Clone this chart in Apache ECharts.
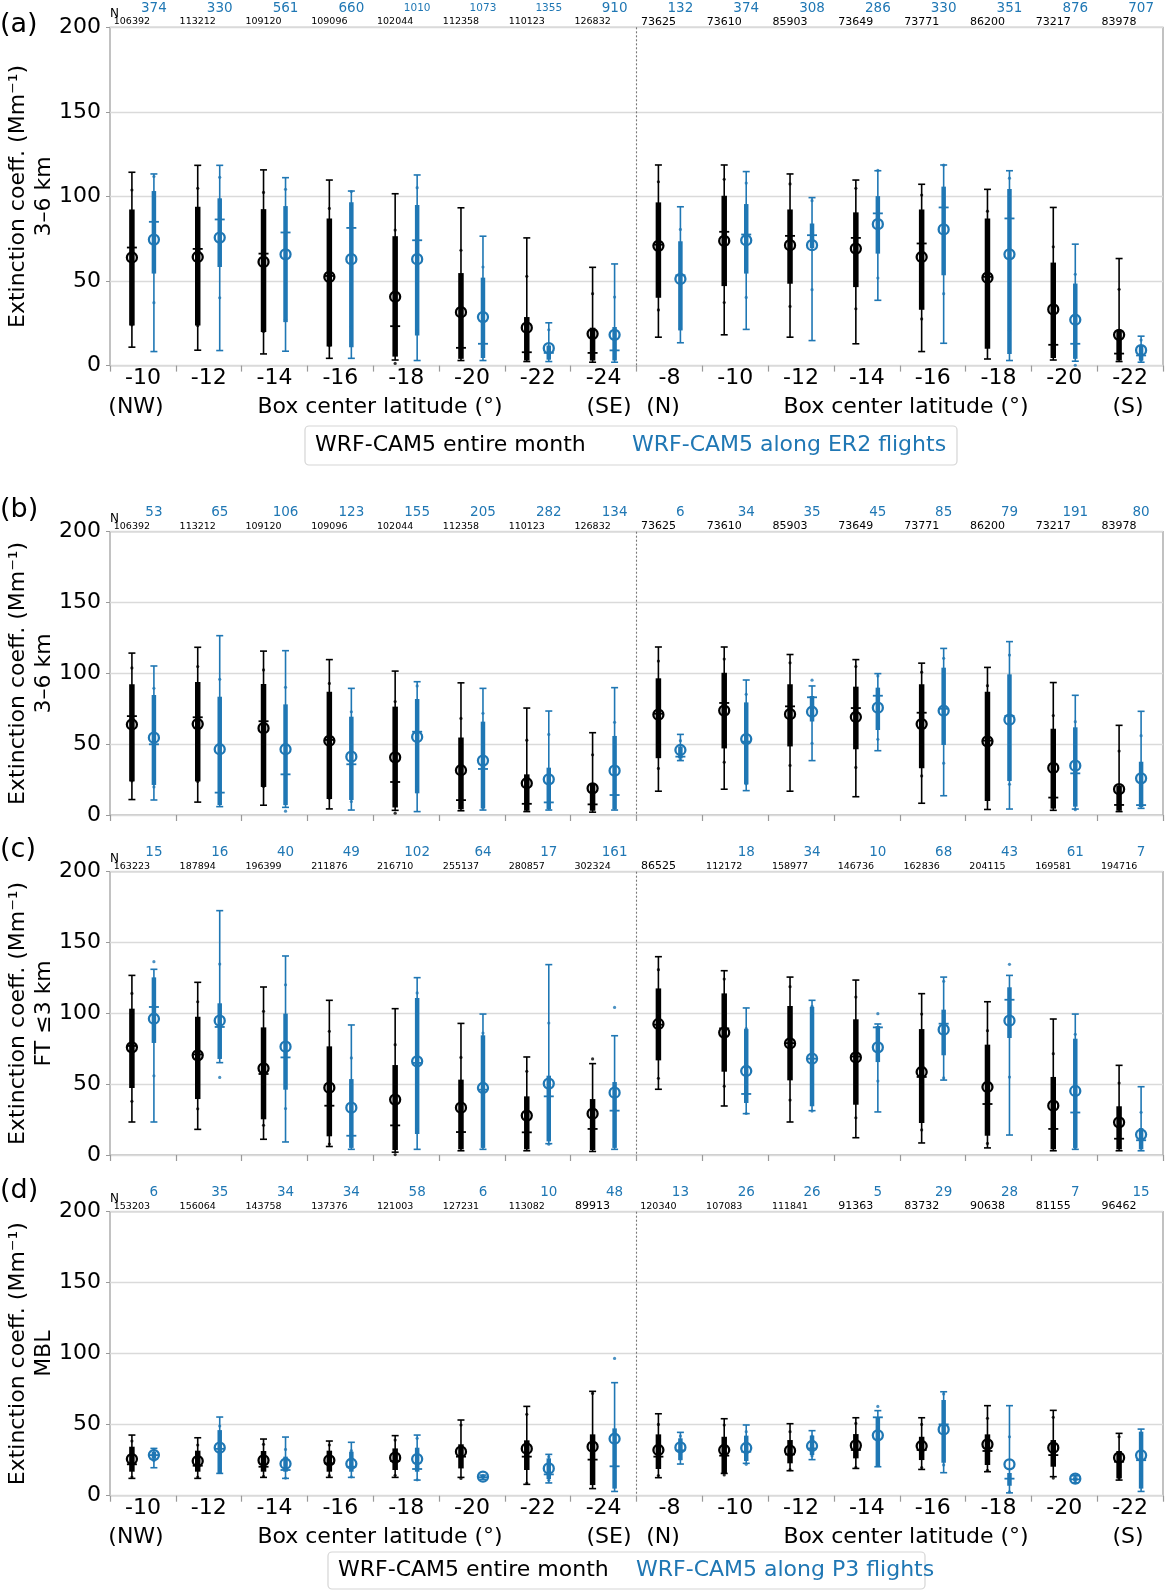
<!DOCTYPE html>
<html>
<head>
<meta charset="utf-8">
<script src="https://cdn.jsdelivr.net/npm/echarts@6/dist/echarts.min.js"></script>
<style>
  html, body { margin: 0; padding: 0; background: #fff; }
  #main { width: 1173px; height: 1591px; }
</style>
</head>
<body>
<div id="main"></div>
<script>
// box center latitudes: 8 boxes NW->SE, then 8 boxes N->S
var cats = ['-10', '-12', '-14', '-16', '-18', '-20', '-22', '-24', '-8', '-10', '-12', '-14', '-16', '-18', '-20', '-22'];

// each row: [min, p25, median, mean, p75, max, std]
var monthUpper = [
  [10.9, 23.7, 69.8, 63.9, 92.3, 114.3, 39.9],
  [9.1, 23.7, 69.0, 64.2, 93.9, 118.4, 40.6],
  [6.9, 19.8, 66.2, 61.3, 92.5, 115.7, 41.1],
  [4.3, 11.3, 53.0, 52.4, 87.0, 109.7, 40.5],
  [3.3, 5.3, 23.3, 40.7, 76.5, 101.6, 39.4],
  [3.0, 4.0, 10.5, 31.6, 54.7, 93.3, 36.6],
  [2.4, 3.0, 7.9, 22.4, 28.7, 75.5, 30.4],
  [2.0, 3.0, 7.5, 18.8, 22.4, 58.1, 23.7],
  [16.8, 40.1, 71.5, 70.8, 96.5, 118.6, 37.9],
  [18.2, 47.0, 79.1, 73.7, 100.4, 118.6, 36.4],
  [16.8, 48.4, 76.7, 71.2, 92.3, 113.3, 36.2],
  [12.9, 46.4, 75.5, 69.2, 90.6, 109.7, 35.6],
  [8.3, 33.0, 72.2, 64.2, 92.3, 107.2, 36.6],
  [3.9, 9.9, 52.5, 52.0, 87.0, 104.2, 39.3],
  [3.3, 4.5, 12.3, 33.2, 60.9, 93.5, 37.0],
  [2.4, 3.0, 7.1, 18.2, 20.8, 63.3, 26.9]
];
var er2Upper = [
  [8.3, 54.4, 85.0, 74.5, 103.2, 113.3, 37.3],
  [8.9, 58.3, 86.4, 75.7, 98.9, 118.4, 35.6],
  [8.5, 25.7, 78.7, 65.8, 94.3, 111.1, 38.4],
  [4.3, 10.9, 81.4, 62.9, 96.5, 103.2, 40.0],
  [3.0, 17.8, 74.1, 62.9, 94.9, 112.7, 42.3],
  [3.0, 4.5, 12.9, 28.7, 52.0, 76.5, 29.6],
  [2.4, 3.5, 7.5, 10.3, 11.9, 25.3, 10.9],
  [2.0, 3.0, 9.0, 18.2, 22.8, 60.1, 22.3],
  [13.5, 20.8, 53.4, 51.2, 73.5, 93.9, 29.3],
  [21.4, 54.4, 77.5, 74.1, 95.5, 114.7, 33.8],
  [14.8, 69.5, 77.1, 71.2, 84.0, 99.3, 26.3],
  [38.6, 66.2, 90.0, 83.6, 100.2, 115.2, 31.8],
  [13.2, 53.4, 93.5, 80.5, 105.8, 118.6, 38.0],
  [3.0, 6.9, 87.0, 65.8, 104.4, 115.2, 45.0],
  [2.6, 4.0, 12.9, 27.1, 48.5, 71.8, 26.9],
  [2.0, 3.0, 6.0, 9.1, 11.9, 17.4, 6.0]
];
var p3Upper = [
  [10.6, 21.2, 49.9, 54.6, 84.7, 105.2, 34.8],
  [5.9, 7.0, 15.8, 46.4, 83.5, 126.6, 49.4],
  [5.4, 7.0, 28.7, 46.4, 78.1, 116.0, 43.7],
  [3.5, 10.6, 35.8, 41.2, 69.4, 89.4, 31.7],
  [2.4, 15.3, 58.8, 55.1, 81.9, 94.1, 36.0],
  [3.5, 4.7, 32.5, 38.4, 65.9, 89.4, 33.4],
  [3.5, 4.0, 8.9, 25.2, 33.4, 73.4, 31.7],
  [3.5, 4.0, 14.1, 31.3, 55.8, 89.9, 34.1],
  [38.4, 40.0, 41.2, 45.9, 48.2, 56.9, 6.6],
  [17.2, 21.6, 51.8, 53.6, 79.5, 95.3, 31.6],
  [38.4, 66.0, 83.1, 72.9, 84.0, 91.1, 22.3],
  [45.4, 60.0, 84.2, 75.8, 89.9, 99.8, 22.4],
  [13.6, 49.4, 75.0, 73.6, 104.0, 117.6, 37.0],
  [4.2, 24.0, 70.0, 67.3, 99.3, 122.4, 45.6],
  [4.2, 5.9, 29.4, 34.8, 61.9, 84.5, 31.1],
  [4.7, 5.5, 7.0, 25.9, 37.6, 73.2, 30.1]
];
var monthFT = [
  [23.3, 47.3, 77.0, 76.0, 103.3, 126.8, 38.1],
  [18.1, 39.5, 71.0, 70.4, 97.6, 121.9, 37.8],
  [11.1, 25.2, 57.2, 61.2, 90.1, 118.6, 40.2],
  [6.0, 13.2, 34.8, 47.5, 76.7, 109.2, 39.8],
  [2.0, 3.5, 20.9, 39.1, 63.5, 103.3, 38.8],
  [3.0, 4.0, 16.2, 33.4, 53.2, 92.9, 35.5],
  [3.0, 4.0, 16.0, 27.8, 41.4, 69.2, 31.3],
  [2.5, 3.5, 18.4, 29.2, 39.5, 64.5, 38.6],
  [46.4, 66.8, 92.0, 92.5, 117.6, 140.0, 38.3],
  [34.6, 58.8, 89.4, 86.4, 114.1, 130.1, 37.8],
  [23.3, 52.7, 79.0, 78.8, 105.2, 125.6, 40.0],
  [12.2, 35.5, 69.5, 68.9, 95.8, 123.5, 42.6],
  [8.5, 22.6, 55.1, 58.6, 88.9, 113.9, 40.9],
  [5.0, 13.6, 36.0, 48.0, 77.9, 108.2, 39.8],
  [3.0, 4.0, 18.4, 34.8, 55.1, 96.0, 36.7],
  [3.0, 4.0, 11.5, 23.1, 34.4, 63.3, 27.7]
];
var p3FT = [
  [23.3, 79.1, 104.5, 96.2, 125.4, 131.1, 40.3],
  [65.2, 67.8, 90.4, 94.8, 107.1, 172.5, 40.0],
  [9.2, 46.1, 68.9, 76.5, 99.8, 140.5, 43.7],
  [4.0, 5.0, 13.6, 33.4, 53.6, 91.8, 35.1],
  [4.0, 14.8, 65.0, 66.1, 110.8, 125.2, 48.3],
  [4.0, 5.0, 46.1, 47.3, 84.5, 99.5, 38.8],
  [8.0, 9.6, 41.4, 50.4, 56.0, 134.4, 42.8],
  [4.0, 5.0, 31.3, 44.0, 51.5, 84.2, 60.2],
  null,
  [29.2, 36.7, 43.1, 59.3, 88.9, 103.8, 30.0],
  [31.3, 34.4, 68.0, 68.0, 104.5, 109.2, 37.0],
  [30.4, 65.6, 90.1, 76.0, 91.0, 92.5, 23.8],
  [52.9, 70.4, 92.7, 88.5, 102.6, 125.6, 34.1],
  [14.1, 82.6, 109.6, 94.8, 118.4, 126.8, 39.8],
  [4.0, 5.0, 30.0, 45.2, 82.1, 99.5, 40.0],
  [3.0, 4.0, 10.4, 14.4, 19.0, 48.2, 15.7]
];
var monthMBL = [
  [12.2, 16.9, 22.1, 25.8, 34.5, 42.7, 12.7],
  [12.2, 16.9, 21.1, 24.4, 31.7, 40.8, 11.3],
  [12.9, 16.9, 20.4, 24.9, 31.5, 39.9, 11.3],
  [12.9, 16.9, 22.8, 24.9, 31.7, 38.5, 10.8],
  [12.9, 18.1, 24.4, 26.8, 33.3, 42.3, 12.4],
  [12.9, 19.2, 27.5, 31.0, 36.2, 53.3, 18.8],
  [8.0, 18.1, 27.5, 33.1, 39.0, 62.9, 24.2],
  [5.0, 7.5, 25.4, 34.5, 43.2, 73.5, 37.5],
  [12.7, 18.8, 27.5, 32.2, 43.2, 57.7, 18.0],
  [15.7, 15.7, 28.2, 32.2, 41.5, 54.2, 17.6],
  [17.6, 22.8, 29.1, 31.7, 39.2, 50.7, 13.4],
  [19.2, 26.3, 32.2, 35.4, 43.4, 54.9, 15.5],
  [18.5, 25.1, 32.2, 35.0, 41.5, 54.9, 15.2],
  [16.9, 21.6, 31.5, 36.2, 43.2, 63.4, 18.3],
  [13.4, 20.4, 28.6, 33.8, 39.2, 60.1, 21.4],
  [11.0, 12.2, 23.9, 26.8, 31.5, 43.9, 14.7]
];
var p3MBL = [
  [19.7, 26.0, 28.6, 28.6, 31.0, 33.3, 4.0],
  [15.7, 15.7, 33.0, 33.8, 46.2, 55.4, 15.3],
  [12.2, 16.9, 18.1, 22.5, 27.5, 41.3, 10.1],
  [12.9, 16.9, 20.4, 22.5, 31.0, 37.6, 9.2],
  [11.0, 16.9, 18.8, 25.8, 33.8, 42.7, 14.6],
  [11.5, 12.5, 13.0, 13.4, 14.0, 14.5, 1.0],
  [9.0, 11.7, 15.0, 19.2, 26.3, 29.1, 8.3],
  [3.0, 5.0, 20.7, 40.1, 47.4, 79.6, 56.6],
  [22.3, 25.0, 32.0, 34.0, 40.4, 44.6, 8.0],
  [22.8, 24.4, 31.0, 33.6, 42.3, 49.8, 11.5],
  [25.4, 28.6, 33.3, 35.0, 42.3, 45.8, 7.0],
  [20.4, 20.4, 55.2, 42.5, 55.2, 59.9, 20.4],
  [16.2, 23.2, 50.2, 46.7, 67.4, 73.2, 25.0],
  [2.0, 7.0, 12.0, 22.1, 16.0, 63.4, 19.4],
  [9.0, 10.5, 11.5, 12.0, 13.0, 14.0, 2.0],
  [3.0, 5.0, 25.0, 28.4, 45.1, 46.9, 14.0]
];

// sample counts shown above each panel
var nMonthUpper = [106392, 113212, 109120, 109096, 102044, 112358, 110123, 126832, 73625, 73610, 85903, 73649, 73771, 86200, 73217, 83978];
var nEr2 = [374, 330, 561, 660, 1010, 1073, 1355, 910, 132, 374, 308, 286, 330, 351, 876, 707];
var nP3Upper = [53, 65, 106, 123, 155, 205, 282, 134, 6, 34, 35, 45, 85, 79, 191, 80];
var nMonthFT = [163223, 187894, 196399, 211876, 216710, 255137, 280857, 302324, 86525, 112172, 158977, 146736, 162836, 204115, 169581, 194716];
var nP3FT = [15, 16, 40, 49, 102, 64, 17, 161, null, 18, 34, 10, 68, 43, 61, 7];
var nMonthMBL = [153203, 156064, 143758, 137376, 121003, 127231, 113082, 89913, 120340, 107083, 111841, 91363, 83732, 90638, 81155, 96462];
var nP3MBL = [6, 35, 34, 34, 58, 6, 10, 48, 13, 26, 26, 5, 29, 28, 7, 15];

var yTicks = [0, 50, 100, 150, 200];

var BLUE = '#1f77b4';
var FONT = 'DejaVu Sans';
var TXT = 22;
var myChart = echarts.init(document.getElementById('main'), null, { renderer: 'canvas' });

var panels = [
  { top: 27.3, height: 338.3, tag: '(a)', tagY: 25, sub: '3\u20136 km', month: monthUpper, flight: er2Upper, nMonth: nMonthUpper, nFlight: nEr2, labels: true },
  { top: 531.7, height: 283.3, tag: '(b)', tagY: 510, sub: '3\u20136 km', month: monthUpper, flight: p3Upper, nMonth: nMonthUpper, nFlight: nP3Upper, labels: false },
  { top: 871.7, height: 283.3, tag: '(c)', tagY: 850, sub: 'FT \u22643 km', month: monthFT, flight: p3FT, nMonth: nMonthFT, nFlight: nP3FT, labels: false },
  { top: 1211.7, height: 284, tag: '(d)', tagY: 1191, sub: 'MBL', month: monthMBL, flight: p3MBL, nMonth: nMonthMBL, nFlight: nP3MBL, labels: true }
];

function toData(rows) {
  var out = [];
  rows.forEach(function (r, i) {
    if (r) out.push([i].concat(r));
  });
  return out;
}

// one box-whisker glyph: whisker with caps, thick IQR bar, median tick, mean circle, mean±std dots
function glyph(color, dx, thick) {
  return function (params, api) {
    var i = api.value(0);
    var x = api.coord([i, 0])[0] + dx;
    var y = function (v) { return api.coord([i, v])[1]; };
    var lo = api.value(1), q1 = api.value(2), med = api.value(3), mean = api.value(4),
        q3 = api.value(5), hi = api.value(6), sd = api.value(7);
    var thin = { stroke: color, lineWidth: 1.6 };
    var ch = [
      { type: 'line', shape: { x1: x, y1: y(lo), x2: x, y2: y(hi) }, style: thin },
      { type: 'line', shape: { x1: x - 3.5, y1: y(lo), x2: x + 3.5, y2: y(lo) }, style: thin },
      { type: 'line', shape: { x1: x - 3.5, y1: y(hi), x2: x + 3.5, y2: y(hi) }, style: thin },
      { type: 'line', shape: { x1: x, y1: y(q1), x2: x, y2: y(q3) }, style: { stroke: color, lineWidth: thick } },
      { type: 'line', shape: { x1: x - 5, y1: y(med), x2: x + 5, y2: y(med) }, style: { stroke: color, lineWidth: 1.8 } }
    ];
    [mean - sd, mean + sd].forEach(function (v) {
      if (v >= 0 && v <= 200) {
        ch.push({ type: 'circle', shape: { cx: x, cy: y(v), r: 1.6 }, style: { fill: color, opacity: 0.8 } });
      }
    });
    ch.push({ type: 'circle', shape: { cx: x, cy: y(mean), r: 5 }, style: { fill: 'none', stroke: color, lineWidth: 2.3 } });
    return { type: 'group', children: ch };
  };
}

function countLabels(color, dx, above, small, big, cut) {
  return function (params, api) {
    var i = api.value(0);
    var n = api.value(1);
    var txt = String(n);
    return {
      type: 'text',
      x: api.coord([i, 0])[0] + dx,
      y: params.coordSys.y - above,
      style: {
        text: txt, fill: color, font: (txt.length >= cut ? small : big) + 'px ' + FONT,
        align: 'center', verticalAlign: 'middle'
      }
    };
  };
}

function divider(params, api) {
  var x = (api.coord([7, 0])[0] + api.coord([8, 0])[0]) / 2;
  var cs = params.coordSys;
  return {
    type: 'line',
    shape: { x1: x, y1: cs.y, x2: x, y2: cs.y + cs.height },
    style: { stroke: '#777', lineWidth: 1.1, lineDash: [2, 2] }
  };
}

var grids = [], xAxes = [], yAxes = [], series = [], graphics = [];

panels.forEach(function (p, k) {
  grids.push({ left: 110, width: 1053, top: p.top, height: p.height, show: true, borderColor: '#999', borderWidth: 1.2 });
  xAxes.push({
    type: 'category', gridIndex: k, data: cats.map(function (c, i) { return String(i); }),
    boundaryGap: true,
    axisLine: { show: false },
    axisTick: { show: true, length: 6, lineStyle: { color: '#999', width: 1.2 } },
    axisLabel: { show: p.labels, margin: 2, fontSize: TXT, fontFamily: FONT, color: '#000',
      formatter: function (v, idx) { return cats[idx]; } },
    splitLine: { show: false }
  });
  yAxes.push({
    type: 'value', gridIndex: k, min: yTicks[0], max: yTicks[yTicks.length - 1], interval: 50,
    axisLine: { show: false },
    axisTick: { show: true, length: 4, lineStyle: { color: '#999' } },
    axisLabel: { margin: 9, fontSize: TXT, fontFamily: FONT, color: '#000' },
    splitLine: { show: true, lineStyle: { color: '#dadada', width: 1.4 } }
  });

  series.push({ type: 'custom', xAxisIndex: k, yAxisIndex: k, renderItem: divider, data: [[0, 0]], silent: true, z: 1 });
  series.push({ type: 'custom', xAxisIndex: k, yAxisIndex: k, renderItem: glyph('#000', -11, 5.5), data: toData(p.month), z: 3 });
  series.push({ type: 'custom', xAxisIndex: k, yAxisIndex: k, renderItem: glyph(BLUE, 11, 4.5), data: toData(p.flight), z: 3 });
  series.push({ type: 'custom', xAxisIndex: k, yAxisIndex: k, renderItem: countLabels('#000', -11, 5.5, 9.5, 11, 6),
    data: p.nMonth.map(function (n, i) { return [i, n]; }), z: 4 });
  series.push({ type: 'custom', xAxisIndex: k, yAxisIndex: k, renderItem: countLabels(BLUE, 11, 19, 10.5, 13.5, 4),
    data: p.nFlight.map(function (n, i) { return n == null ? null : [i, n]; }).filter(Boolean), z: 4 });

  var mid = p.top + p.height / 2;
  graphics.push(
    { type: 'text', x: 0, y: p.tagY, style: { text: p.tag, font: '27px ' + FONT, fill: '#000', verticalAlign: 'middle' } },
    { type: 'text', x: 18, y: mid, rotation: Math.PI / 2,
      style: { text: 'Extinction coeff. (Mm\u207B\u00B9)', font: TXT + 'px ' + FONT, fill: '#000', align: 'center', verticalAlign: 'middle' } },
    { type: 'text', x: 44, y: mid, rotation: Math.PI / 2,
      style: { text: p.sub, font: TXT + 'px ' + FONT, fill: '#000', align: 'center', verticalAlign: 'middle' } },
    { type: 'text', x: 110, y: p.top - 13, style: { text: 'N', font: '12px ' + FONT, fill: '#000', verticalAlign: 'middle' } }
  );

  if (p.labels) {
    var ly = p.top + p.height + 42;
    [['(NW)', 136], ['Box center latitude (\u00B0)', 380], ['(SE)', 609], ['(N)', 663],
     ['Box center latitude (\u00B0)', 906], ['(S)', 1128]].forEach(function (t) {
      graphics.push({ type: 'text', x: t[1], y: ly,
        style: { text: t[0], font: TXT + 'px ' + FONT, fill: '#000', align: 'center', verticalAlign: 'middle' } });
    });
  }
});

// legends
function legendBox(x1, x2, yTop, yBot, tx1, tx2, flightName) {
  graphics.push(
    { type: 'rect', shape: { x: x1, y: yTop, width: x2 - x1, height: yBot - yTop, r: 4 },
      style: { fill: '#fff', stroke: '#d5d5d5', lineWidth: 1.2 } },
    { type: 'text', x: tx1, y: (yTop + yBot) / 2,
      style: { text: 'WRF-CAM5 entire month', font: TXT + 'px ' + FONT, fill: '#000', verticalAlign: 'middle' } },
    { type: 'text', x: tx2, y: (yTop + yBot) / 2,
      style: { text: flightName, font: TXT + 'px ' + FONT, fill: BLUE, verticalAlign: 'middle' } }
  );
}
legendBox(305, 957, 426, 465, 315, 632, 'WRF-CAM5 along ER2 flights');
legendBox(328, 925, 1552, 1589, 338, 636, 'WRF-CAM5 along P3 flights');

var option = {
  backgroundColor: '#fff',
  animation: false,
  grid: grids,
  xAxis: xAxes,
  yAxis: yAxes,
  series: series,
  graphic: graphics
};

myChart.setOption(option);
</script>
</body>
</html>
